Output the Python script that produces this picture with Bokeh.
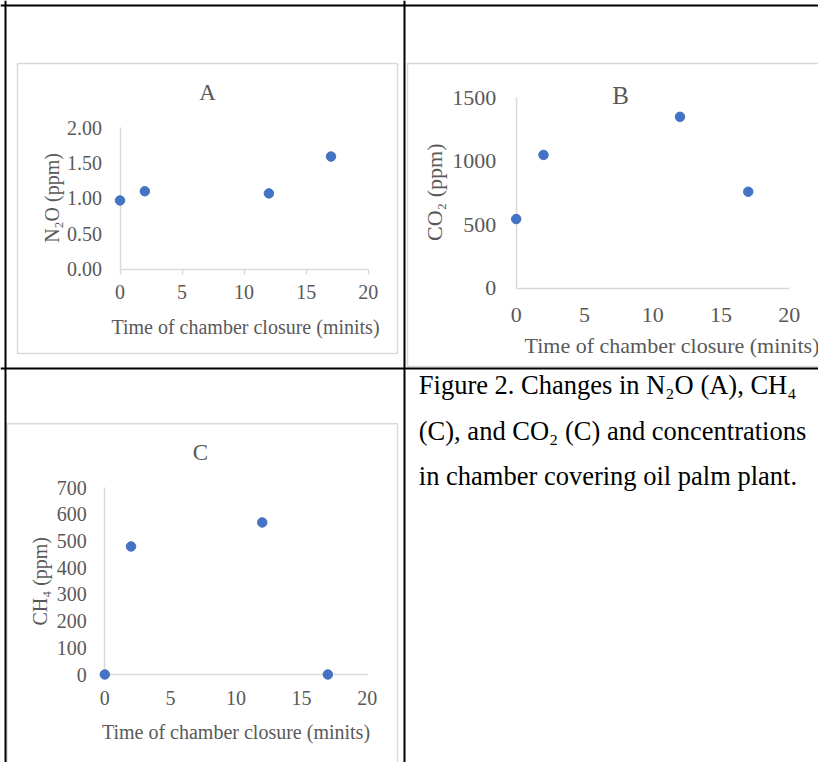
import numpy as np
from bokeh.plotting import figure
from bokeh.models import Range1d, LinearAxis, FixedTicker, NumeralTickFormatter, BasicTickFormatter
from bokeh.core.properties import value
from bokeh.embed import file_html
from bokeh.resources import INLINE

# ---------------- data ----------------
time_min = [0, 2, 12, 17]
n2o_ppm = [0.97, 1.10, 1.07, 1.59]
co2_ppm = [545, 1050, 1350, 760]
ch4_ppm = [0, 480, 570, 0]

x_ticks = [0, 5, 10, 15, 20]
n2o_ticks = [0.0, 0.5, 1.0, 1.5, 2.0]
co2_ticks = [0, 500, 1000, 1500]
ch4_ticks = [0, 100, 200, 300, 400, 500, 600, 700]

titles = ["A", "B", "C"]
x_label = "Time of chamber closure (minits)"
y_labels = ["N\u2082O (ppm)", "CO\u2082 (ppm)", "CH\u2084 (ppm)"]
caption = ["Figure 2. Changes in N\u2082O (A), CH\u2084",
           "(C), and CO\u2082 (C) and concentrations",
           "in chamber covering oil palm plant."]

# ---------------- canvas ----------------
W, H = 818, 762
FONT = "Liberation Serif"
GRAY_TXT = "#595959"
AX_COL = "#d9d9d9"
DOT = "#4472C4"
MID = 0.34  # text anchor -> visual middle correction (fraction of font size)


def xrange_for(v0, X0, v1, X1):
    k = (v1 - v0) / (X1 - X0)
    s = v0 - X0 * k
    return Range1d(s, s + W * k)


def yrange_for(v0, Y0, v1, Y1):
    b0, b1 = H - Y0, H - Y1
    k = (v1 - v0) / (b1 - b0)
    s = v0 - b0 * k
    return Range1d(s, s + H * k)


p = figure(width=W, height=H, output_backend="svg", toolbar_location=None, tools="",
           x_range=Range1d(0, W), y_range=Range1d(H, 0),
           x_axis_type=None, y_axis_type=None, min_border=0)
p.outline_line_color = None
p.background_fill_color = "white"
p.border_fill_color = "white"

p.extra_x_ranges = {
    "ax": xrange_for(0, 119.5, 20, 367.7),
    "bx": xrange_for(0, 515.7, 20, 788.7),
    "cx": xrange_for(0, 104.3, 20, 366.7),
}
p.extra_y_ranges = {
    "ay": yrange_for(0, 268.7, 2.0, 127.0),
    "by": yrange_for(0, 287.7, 1500, 97.3),
    "cy": yrange_for(0, 674.0, 700, 487.3),
}

# chart boxes (light gray)
p.quad(left=[17, 407, 6.5], right=[397, 832, 397],
       top=[63, 63, 423.3], bottom=[353, 366, H + 5],
       fill_color=None, line_color=AX_COL, line_width=1.5)

# table lines (black)
p.segment(x0=[5, 0, 404, 0], y0=[0, 5, 0, 368],
          x1=[5, W, 404, W], y1=[H, 5, H, 368],
          line_color="black", line_width=2)


def add_chart(xn, yn, yvals, yticks, ymax, yfmt, fs, xtick_out, xstand, ystand):
    xa = LinearAxis(x_range_name=xn, y_range_name=yn, fixed_location=0, bounds=(0, 20),
                    ticker=FixedTicker(ticks=x_ticks))
    ya = LinearAxis(x_range_name=xn, y_range_name=yn, fixed_location=0, bounds=(0, ymax),
                    ticker=FixedTicker(ticks=yticks), formatter=yfmt)
    for ax in (xa, ya):
        ax.axis_line_color = AX_COL
        ax.axis_line_width = 1.5
        ax.major_tick_line_color = AX_COL
        ax.major_tick_line_width = 1.5
        ax.major_tick_in = 0
        ax.minor_tick_line_color = None
        ax.major_label_text_font = FONT
        ax.major_label_text_font_size = fs
        ax.major_label_text_color = GRAY_TXT
    xa.major_tick_out = xtick_out
    ya.major_tick_out = 0
    xa.major_label_standoff = xstand
    ya.major_label_standoff = ystand
    p.add_layout(xa, "below")
    p.add_layout(ya, "left")
    r = p.scatter(time_min, yvals, x_range_name=xn, y_range_name=yn,
                  size=9.5, fill_color=DOT, line_color=DOT)
    r.level = "annotation"


add_chart("ax", "ay", n2o_ppm, n2o_ticks, 2.0, NumeralTickFormatter(format="0.00"),
          "20px", 5, 11, 18)
add_chart("bx", "by", co2_ppm, co2_ticks, 1500, BasicTickFormatter(),
          "22px", 0, 20, 20)
add_chart("cx", "cy", ch4_ppm, ch4_ticks, 700, BasicTickFormatter(),
          "20px", 0, 16, 18)


def label(xs, ys, texts, sizes, color=GRAY_TXT, align="center", angle=0.0):
    ys_adj = [y - MID * s for y, s in zip(ys, sizes)] if angle == 0 else ys
    p.text(x=xs, y=ys_adj, text=texts, text_font=value(FONT),
           text_font_size=[f"{s}px" for s in sizes], angle=angle,
           text_color=color, text_align=align, text_baseline="alphabetic")


# titles (baselines)
label([207, 620, 200], [100, 103.3, 459.5], titles, [23, 25, 23])

# x axis labels (baselines)
label([245, 671.5, 235.5], [333.3, 352.5, 738], [x_label] * 3, [20, 22, 20])

# y axis labels (rotated)
label([51.3, 433.7, 39], [197.5, 191.7, 580.8], y_labels, [20, 22, 20], angle=np.pi / 2)

# caption (baselines)
label([418.3] * 3, [393.3, 440, 485], caption, [26.5] * 3, color="black", align="left")

open("out.html", "w").write(file_html(p, INLINE))
